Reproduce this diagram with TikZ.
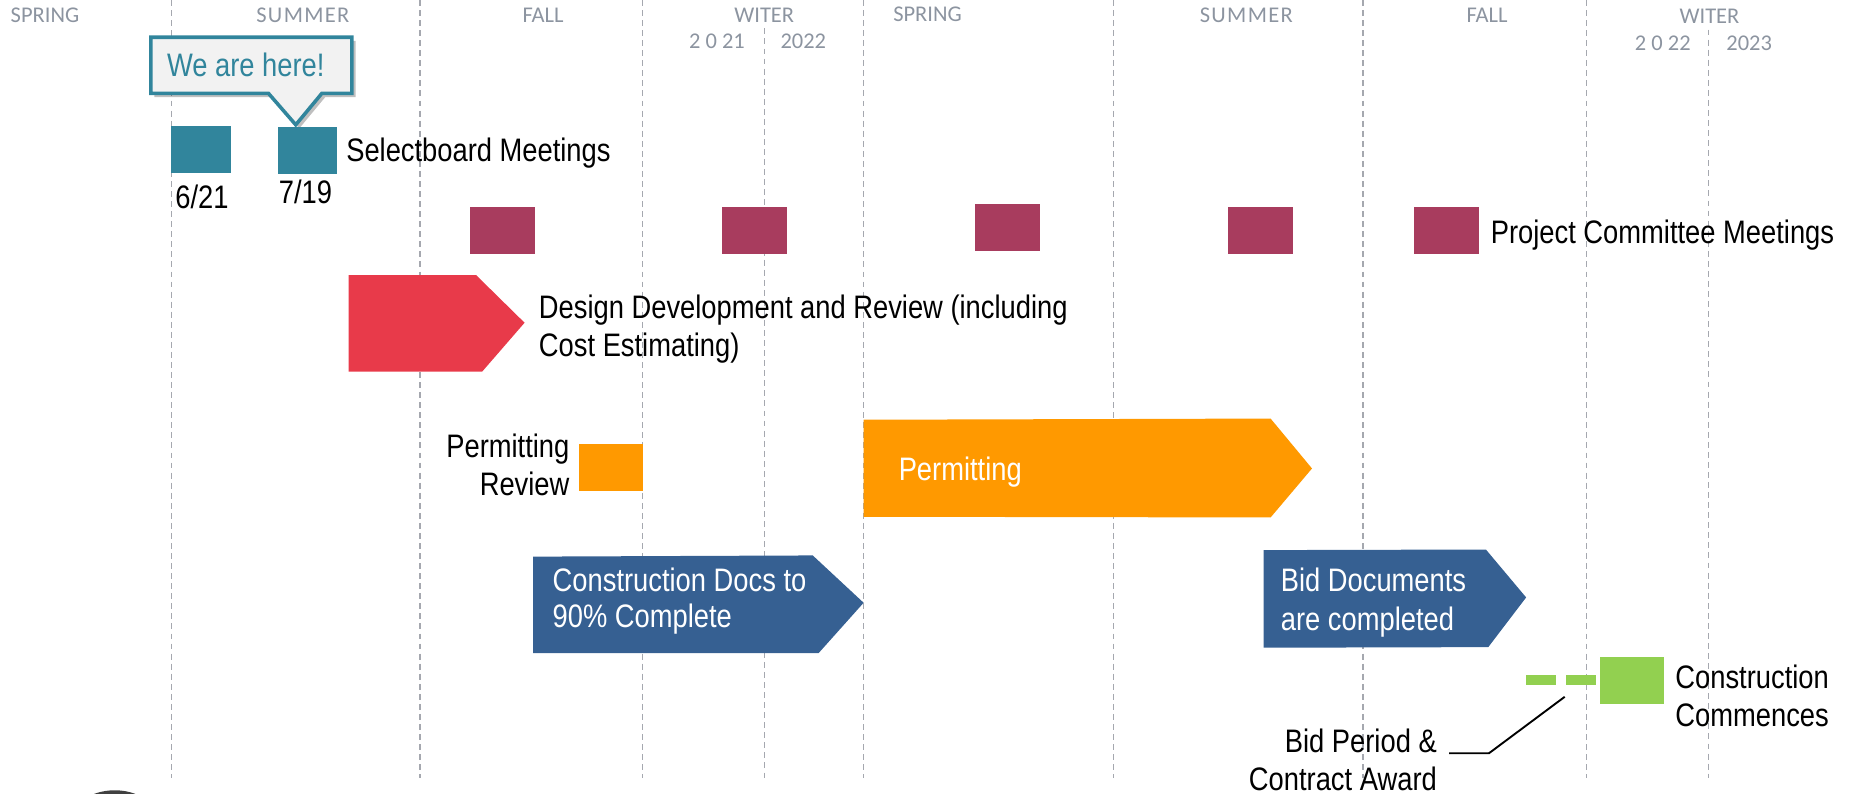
\documentclass[tikz,border=0pt]{standalone}
\usepackage{fontspec}
\setmainfont{Liberation Sans}[FakeStretch=0.84]
\newfontfamily\seasonfont{Carlito}
\newfontfamily\seasonwide{Carlito}[LetterSpace=6]
\definecolor{tealc}{RGB}{49,133,156}
\definecolor{maroonc}{RGB}{168,60,94}
\definecolor{redc}{RGB}{232,58,74}
\definecolor{orangec}{RGB}{255,153,0}
\definecolor{bluec}{RGB}{54,96,146}
\definecolor{greenc}{RGB}{146,208,80}
\definecolor{gridgray}{RGB}{165,168,175}
\definecolor{seasongray}{RGB}{140,148,160}
\definecolor{calloutfill}{RGB}{242,242,242}
\begin{document}
\begin{tikzpicture}[x=1pt,y=-1pt,
  lbl/.style={inner sep=0pt, anchor=base west, font=\fontsize{27.5}{32}\selectfont},
  lblr/.style={lbl, anchor=base east},
  wlbl/.style={lbl, text=white},
  season/.style={inner sep=0pt, anchor=base, text=seasongray, font=\seasonfont\fontsize{19}{22}\selectfont},
  seasonw/.style={season, font=\seasonwide\fontsize{19}{22}\selectfont},
  gridline/.style={draw=gridgray, line width=1.1pt, dash pattern=on 5pt off 3.5pt},
  sq/.style={inner sep=0pt, outer sep=0pt, minimum width=#1, minimum height=39.5pt},
  sq/.default=55pt
]
\useasboundingbox (0,0) rectangle (1568,671);

% vertical season grid
\foreach \gx/\gt in {145/0,355/0,543/0,646/24,730/0,941/0,1152/0,1341/0,1444/25}
  \draw[gridline] (\gx,\gt) -- (\gx,658);

% season labels
\node[season] (sp1) at (38,19.2) {SPRING};
\node[seasonw] (su1) at (256,19.2) {SUMMER};
\node[season] (fa1) at (459,19.2) {FALL};
\node[season] (wi1) at (646,19.4) {WITER};
\node[season] (y21) at (606,41) {2 0 21};
\node[season] (y22a) at (679,41) {2022};
\node[season] (sp2) at (784,18.4) {SPRING};
\node[seasonw] (su2) at (1053.5,19.4) {SUMMER};
\node[season] (fa2) at (1257,19.4) {FALL};
\node[season] (wi2) at (1445,19.7) {WITER};
\node[season] (y22b) at (1405.5,42.3) {2 0 22};
\node[season] (y23) at (1478.5,42.8) {2023};

% callout "We are here!"
\fill[black, opacity=0.25] ([shift={(3,3)}]127.5,31.5) -- ++(170,0) -- ++(0,47.5) -- ++(-25.5,0) -- ++(-22,26.5) -- ++(-23,-26.5) -- ++(-99.5,0) -- cycle;
\draw[draw=tealc, fill=calloutfill, line width=3pt, line join=miter]
  (127.5,31.5) -- (297.5,31.5) -- (297.5,79) -- (272,79) -- (250,105.5) -- (227,79) -- (127.5,79) -- cycle;
\node[lbl, text=tealc] (here) at (141,64.8) {We are here!};

% selectboard meetings
\node[sq=50.5pt, fill=tealc] (sb1) at (170.2,126.3) {};
\node[sq=50pt, fill=tealc] (sb2) at (260,127) {};
\node[lbl] (sbt) at (292.5,136.6) {Selectboard Meetings};
\node[lbl] (d1) at (148,176) {6/21};
\node[lbl] (d2) at (235.5,172) {7/19};

% project committee meetings
\node[sq, fill=maroonc] (pc1) at (424.5,195) {};
\node[sq, fill=maroonc] (pc2) at (638,195) {};
\node[sq, fill=maroonc] (pc3) at (851.5,192) {};
\node[sq, fill=maroonc] (pc4) at (1065.5,195) {};
\node[sq, fill=maroonc] (pc5) at (1222.5,195) {};
\node[lbl] (pct) at (1260,205.5) {Project Committee Meetings};

% design development
\fill[redc] (294.6,232.5) -- (402.4,232.5) -- (443.4,272.8) -- (407.5,314.2) -- (294.6,314.2) -- cycle;
\node[lbl] (dd1) at (455.4,269) {Design Development and Review (including};
\node[lbl] (dd2) at (455.4,301) {Cost Estimating)};

% permitting review
\node[inner sep=0pt, outer sep=0pt, minimum width=54.2pt, minimum height=39.8pt, fill=orangec] (pr) at (516.6,394.9) {};
\node[lblr] (pr1) at (481.5,387) {Permitting};
\node[lblr] (pr2) at (481.5,419) {Review};

% permitting
\fill[orangec] (730,354.8) -- (1074,353.8) -- (1109,396) -- (1074,437.4) -- (730,436.8) -- cycle;
\node[wlbl] (pm) at (759.5,406) {Permitting};

% construction docs
\fill[bluec] (450.6,470.5) -- (687,469.5) -- (730,509.5) -- (692,552) -- (450.6,552) -- cycle;
\node[wlbl] (cd1) at (467,500) {Construction Docs to};
\node[wlbl] (cd2) at (467,530) {90\% Complete};

% bid documents
\fill[bluec] (1068,465) -- (1256,464.5) -- (1290,505) -- (1258,547) -- (1068,547.5) -- cycle;
\node[wlbl] (bd1) at (1082.5,500) {Bid Documents};
\node[wlbl] (bd2) at (1082.5,532.6) {are completed};

% bid period & construction
\coordinate (bpS) at (1290,574.8);
\coordinate (bpE) at (1349,574.8);
\draw[greenc, line width=8.4pt, dash pattern=on 25pt off 9pt] (bpS) -- (bpE);
\node[sq=54.2pt, fill=greenc] (cc) at (1379.6,575.5) {};
\node[lbl] (cc1) at (1416,581.6) {Construction};
\node[lbl] (cc2) at (1416,613.7) {Commences};
\coordinate (lA) at (1322.6,589);
\coordinate (lB) at (1258.6,636.7);
\coordinate (lC) at (1225,636.7);
\draw[black, line width=1.6pt] (lA) -- (lB) -- (lC);
\node[lblr] (bp1) at (1214.7,636.3) {Bid Period \&};
\node[lblr] (bp2) at (1214.7,667.8) {Contract Award};

% partial logo at the bottom edge
\begin{scope}
  \clip (0,0) rectangle (1568,671);
  \fill[black!75] (97,719) circle (51);
\end{scope}
\end{tikzpicture}
\end{document}
